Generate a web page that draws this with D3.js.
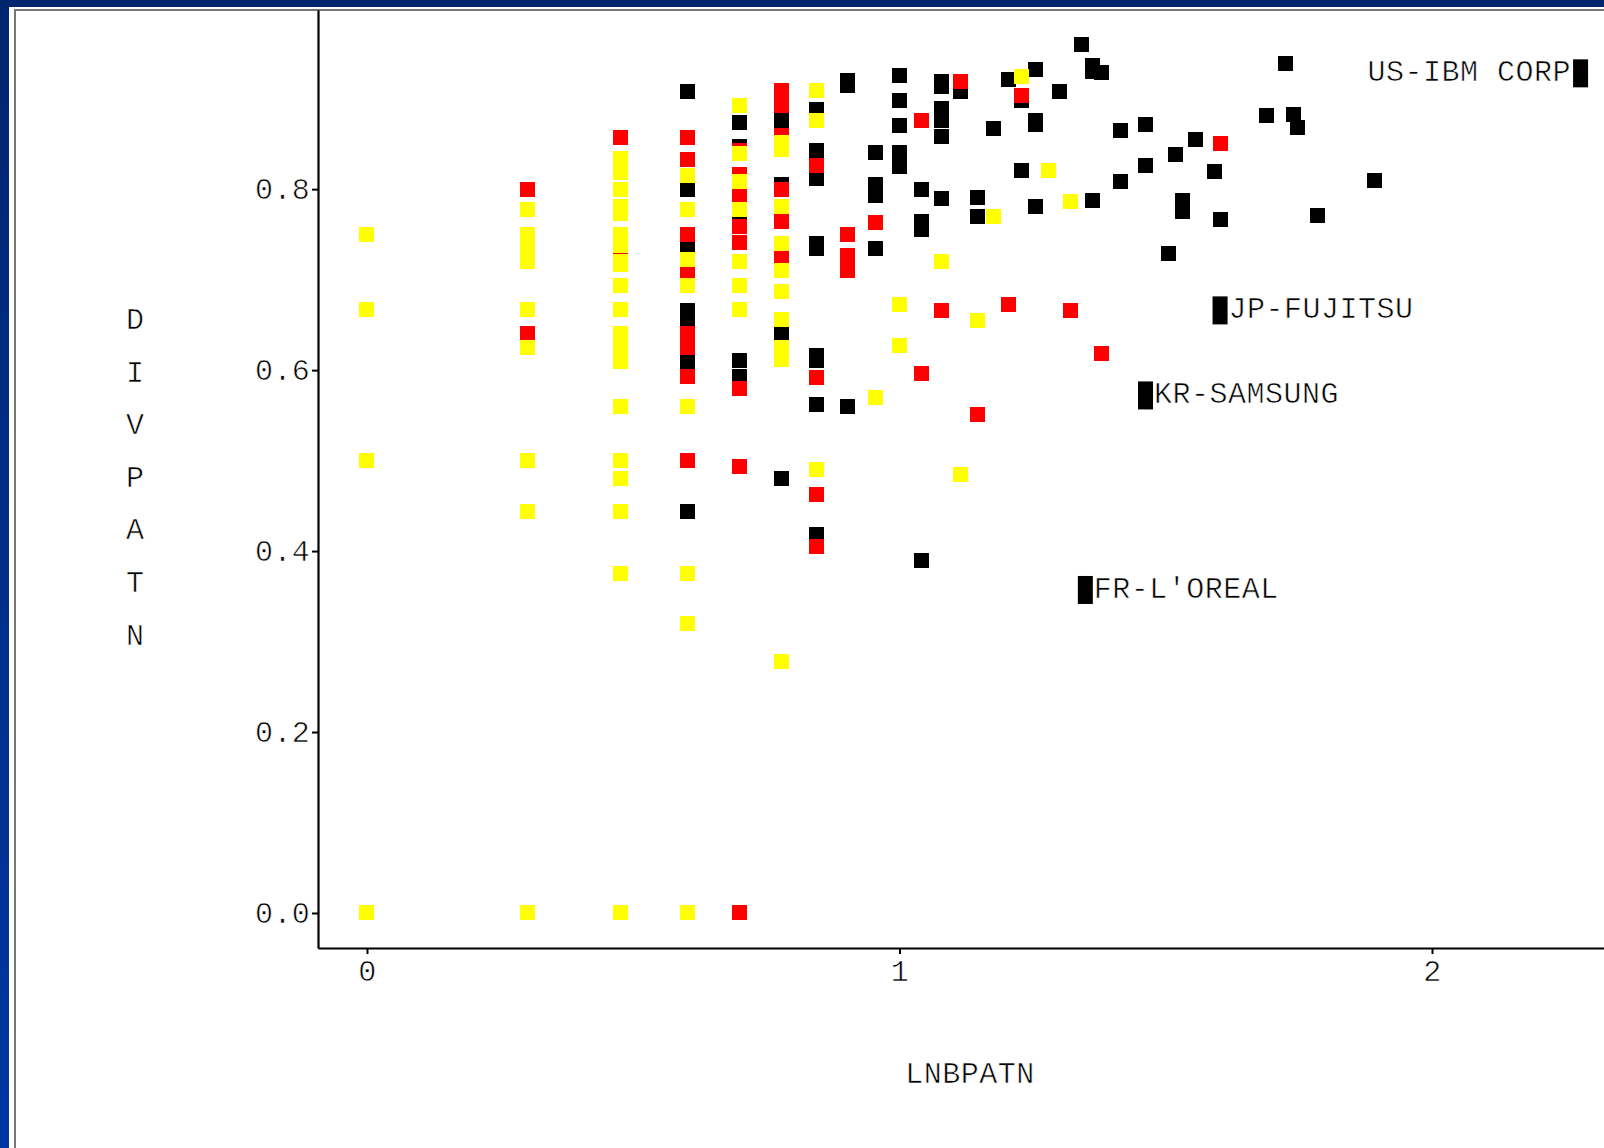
<!DOCTYPE html>
<html>
<head>
<meta charset="utf-8">
<script src="https://cdn.jsdelivr.net/npm/d3@7"></script>
<style>
  body { margin: 0; overflow: hidden; background: #0033a0; }
  /* thin white edge so the glyphs look as light as the original's */
  text { font-family: "Liberation Mono", "DejaVu Sans Mono", monospace; fill: #000;
         stroke: #fff; stroke-width: 0.6px; }
</style>
</head>
<body>
<svg id="chart" width="1604" height="1148"></svg>
<script>
// tick values and their labels
var xTicks = [0, 1, 2];
var xTickLabels = ["0", "1", "2"];
var yTicks = [0, 0.2, 0.4, 0.6, 0.8];
var yTickLabels = ["0.0", "0.2", "0.4", "0.6", "0.8"];

// points, [LNBPATN, DIVPATN], one list per colour
var blackPoints = [
  [0.602,0.908],[0.602,0.8],[0.602,0.734],[0.602,0.666],[0.602,0.655],[0.602,0.61],[0.602,0.444],
  [0.699,0.874],[0.699,0.847],[0.699,0.761],[0.699,0.611],[0.699,0.593],
  [0.778,0.876],[0.778,0.805],[0.778,0.64],[0.778,0.48],
  [0.845,0.888],[0.845,0.843],[0.845,0.812],[0.845,0.74],[0.845,0.734],[0.845,0.616],[0.845,0.611],[0.845,0.562],[0.845,0.418],
  [0.903,0.92],[0.903,0.915],[0.903,0.56],
  [0.954,0.84],[0.954,0.805],[0.954,0.793],[0.954,0.734],
  [1,0.926],[1,0.898],[1,0.87],[1,0.84],[1,0.825],
  [1.041,0.8],[1.041,0.764],[1.041,0.755],[1.041,0.39],
  [1.079,0.919],[1.079,0.913],[1.079,0.889],[1.079,0.882],[1.079,0.876],[1.079,0.858],[1.079,0.79],
  [1.114,0.908],[1.146,0.791],[1.146,0.77],[1.176,0.867],[1.204,0.921],
  [1.23,0.898],[1.23,0.821],
  [1.255,0.932],[1.255,0.876],[1.255,0.872],[1.255,0.781],
  [1.301,0.908],[1.342,0.96],
  [1.362,0.937],[1.362,0.93],[1.362,0.788],[1.38,0.929],
  [1.415,0.865],[1.415,0.809],[1.462,0.871],[1.462,0.826],
  [1.505,0.729],[1.519,0.838],[1.531,0.788],[1.531,0.775],[1.556,0.855],[1.591,0.82],[1.602,0.767],
  [1.69,0.881],[1.724,0.939],[1.74,0.882],[1.748,0.868],[1.785,0.771],[1.892,0.81]
];

var redPoints = [
  [0.301,0.8],[0.301,0.641],
  [0.477,0.857],[0.477,0.73],
  [0.602,0.857],[0.602,0.833],[0.602,0.75],[0.602,0.706],[0.602,0.64],[0.602,0.625],[0.602,0.593],[0.602,0.5],
  [0.699,0.843],[0.699,0.816],[0.699,0.793],[0.699,0.759],[0.699,0.741],[0.699,0.58],[0.699,0.493],[0.699,0],
  [0.778,0.909],[0.778,0.9],[0.778,0.893],[0.778,0.859],[0.778,0.8],[0.778,0.764],[0.778,0.724],
  [0.845,0.826],[0.845,0.592],[0.845,0.462],[0.845,0.405],
  [0.903,0.75],[0.903,0.727],[0.903,0.71],
  [0.954,0.763],[1.041,0.876],[1.041,0.596],[1.079,0.666],[1.114,0.919],[1.146,0.551],
  [1.204,0.672],[1.23,0.903],[1.322,0.666],[1.38,0.618],[1.602,0.85]
];

var yellowPoints = [
  [0,0.75],[0,0.667],[0,0.5],[0,0],
  [0.301,0.778],[0.301,0.75],[0.301,0.735],[0.301,0.72],[0.301,0.667],[0.301,0.625],[0.301,0.5],[0.301,0.444],[0.301,0],
  [0.477,0.834],[0.477,0.818],[0.477,0.8],[0.477,0.781],[0.477,0.773],[0.477,0.75],[0.477,0.738],[0.477,0.72],
  [0.477,0.717],[0.477,0.694],[0.477,0.667],[0.477,0.64],[0.477,0.625],[0.477,0.61],[0.477,0.56],[0.477,0.5],
  [0.477,0.48],[0.477,0.444],[0.477,0.375],[0.477,0],
  [0.602,0.815],[0.602,0.777],[0.602,0.722],[0.602,0.694],[0.602,0.56],[0.602,0.375],[0.602,0.32],[0.602,0],
  [0.699,0.892],[0.699,0.839],[0.699,0.809],[0.699,0.777],[0.699,0.72],[0.699,0.694],[0.699,0.667],
  [0.778,0.852],[0.778,0.844],[0.778,0.781],[0.778,0.74],[0.778,0.71],[0.778,0.687],[0.778,0.656],[0.778,0.625],[0.778,0.612],[0.778,0.278],
  [0.845,0.909],[0.845,0.876],[0.845,0.49],
  [0.954,0.57],[1,0.672],[1,0.627],[1.079,0.72],[1.114,0.485],[1.146,0.655],[1.176,0.77],
  [1.23,0.924],[1.279,0.821],[1.322,0.786]
];

// the four firms that get a name next to them
var firmNames = ["US-IBM CORP", "JP-FUJITSU", "KR-SAMSUNG", "FR-L'OREAL"];
var firmX = [2.279, 1.602, 1.462, 1.349];
var firmY = [0.928, 0.666, 0.572, 0.357];
var firmSide = ["left", "right", "right", "right"];

var svg = d3.select("#chart");

// blue frame round a white panel
var grad = svg.append("defs").append("linearGradient")
  .attr("id", "blue").attr("x1", 0).attr("y1", 0).attr("x2", 0).attr("y2", 1);
grad.append("stop").attr("offset", "0%").attr("stop-color", "#00256f");
grad.append("stop").attr("offset", "100%").attr("stop-color", "#0036a3");
svg.append("rect").attr("width", 1604).attr("height", 1148).attr("fill", "url(#blue)");
svg.append("rect").attr("x", 9).attr("y", 7).attr("width", 1700).attr("height", 1300).attr("fill", "#fff");
svg.append("path").attr("d", "M15,1148V10H1604").attr("fill", "none")
  .attr("stroke", "#777").attr("stroke-width", 2);

// scales: plot box runs from x 318 to past the right edge, y 10 to 948
var x = d3.scaleLinear().domain([-0.092, 2.3906]).range([318, 1640]);
var y = d3.scaleLinear().domain([-0.0387, 0.998]).range([948, 10]);

function styleAxis(g) {
  g.select(".domain").attr("stroke", "#000").attr("stroke-width", 2.2);
  g.selectAll(".tick line").attr("stroke", "#000").attr("stroke-width", 2);
  g.selectAll(".tick text").attr("font-size", 30).attr("fill", "#000")
    .attr("font-family", '"Liberation Mono", monospace').style("letter-spacing", "0.3px");
}

var xAxis = svg.append("g").attr("transform", "translate(0,948)")
  .call(d3.axisBottom(x).tickValues(xTicks).tickFormat((d, i) => xTickLabels[i])
    .tickSize(6).tickSizeOuter(0).tickPadding(6));
styleAxis(xAxis);

var yAxis = svg.append("g").attr("transform", "translate(318,0)")
  .call(d3.axisLeft(y).tickValues(yTicks).tickFormat((d, i) => yTickLabels[i])
    .tickSize(6).tickSizeOuter(0).tickPadding(2));
styleAxis(yAxis);

// squares, black first then red then yellow on top
function drawSquares(points, colour) {
  svg.append("g").selectAll("rect").data(points).enter().append("rect")
    .attr("x", d => x(d[0]) - 7.5)
    .attr("y", d => y(d[1]) - 7.5)
    .attr("width", 15).attr("height", 15)
    .attr("fill", colour)
    .attr("shape-rendering", "crispEdges");
}
drawSquares(blackPoints, "#000");
drawSquares(redPoints, "#ff0000");
drawSquares(yellowPoints, "#ffff00");

// labelled firms: tall black block and the name beside it
for (let i = 0; i < firmNames.length; i++) {
  let cx = x(firmX[i]), cy = y(firmY[i]);
  svg.append("rect").attr("x", cx - 7.5).attr("y", cy - 14)
    .attr("width", 15).attr("height", 28).attr("fill", "#000");
  let left = firmSide[i] == "left";
  svg.append("text")
    .attr("x", left ? cx - 9.5 : cx + 8.5)
    .attr("y", cy + 8)
    .attr("text-anchor", left ? "end" : "start")
    .attr("font-size", 30)
    .style("letter-spacing", "0.5px")
    .text(firmNames[i]);
}

// axis titles
svg.append("text").attr("x", 970).attr("y", 1083).attr("text-anchor", "middle")
  .attr("font-size", 30).style("letter-spacing", "0.5px").text("LNBPATN");

var yLetters = "DIVPATN".split("");
svg.append("g").selectAll("text").data(yLetters).enter().append("text")
  .attr("x", 135)
  .attr("y", (d, i) => 329 + i * 52.6)
  .attr("text-anchor", "middle")
  .attr("font-size", 30)
  .text(d => d);
</script>
</body>
</html>
